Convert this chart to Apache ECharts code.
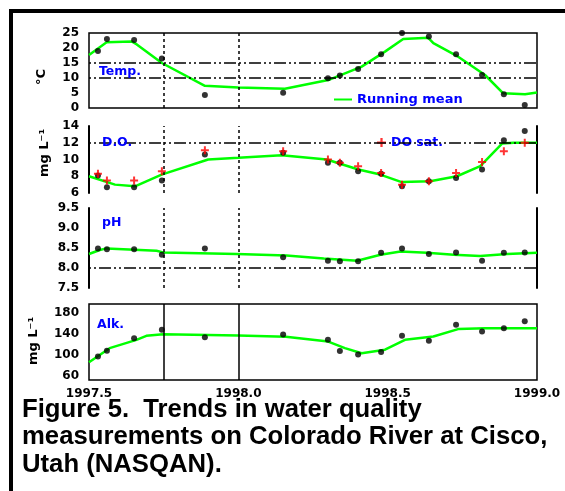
<!DOCTYPE html>
<html><head><meta charset="utf-8">
<script src="https://cdn.jsdelivr.net/npm/echarts@6/dist/echarts.min.js"></script>
<style>html,body{margin:0;padding:0;background:#fff}#c{width:565px;height:491px}</style>
</head><body><div id="c"></div>
<script>
// ---- data ----
const sampleYears = [1997.530, 1997.560, 1997.651, 1997.744, 1997.888, 1998.150, 1998.300, 1998.340,
                     1998.401, 1998.478, 1998.548, 1998.638, 1998.729, 1998.816, 1998.889, 1998.959];
const tempValues  = [19.0, 23.0, 22.7, 16.5, 4.3, 5.1, 9.9, 10.8, 13.0, 17.9, 25.0, 23.8, 17.9, 11.0, 4.6, 1.0];
const doValues    = [8.1, 6.7, 6.7, 7.5, 10.6, 10.8, 9.6, 9.6, 8.6, 8.3, 6.8, 7.4, 7.8, 8.8, 12.3, 13.4];
const doSatValues = [8.3, 7.5, 7.5, 8.6, 11.1, 11.0, 10.0, 9.6, 9.2, 8.4, 7.0, 7.4, 8.4, 9.7, 11.0, 12.0];
const phValues    = [8.49, 8.47, 8.47, 8.33, 8.49, 8.27, 8.18, 8.17, 8.17, 8.38, 8.49, 8.35, 8.39, 8.18, 8.38, 8.39];
const alkValues   = [96.8, 108, 131.8, 147.6, 133.5, 138.5, 128.6, 107.5, 101, 105.5, 136.5, 126.7, 157, 144.4, 150.8, 164];

const tempMeanYears  = [1997.5, 1997.559, 1997.643, 1997.66, 1997.744, 1997.888, 1998.0, 1998.156, 1998.301,
                        1998.413, 1998.491, 1998.552, 1998.636, 1998.653, 1998.736, 1998.826, 1998.887, 1998.960, 1999.0];
const tempMeanValues = [17.7, 21.9, 22.2, 21.2, 15.0, 7.4, 6.8, 6.4, 9.3, 13.8, 18.8, 23.0, 23.4, 21.6, 17.1, 11.0, 4.9, 4.6, 5.2];
const doMeanYears  = [1997.5, 1997.587, 1997.654, 1997.743, 1997.899, 1998.0, 1998.145, 1998.296, 1998.402,
                      1998.475, 1998.547, 1998.642, 1998.732, 1998.81, 1998.883, 1998.922, 1999.0];
const doMeanValues = [8.0, 7.0, 6.8, 8.2, 10.0, 10.2, 10.5, 10.0, 8.8, 8.2, 7.3, 7.4, 8.0, 9.2, 11.9, 12.0, 12.0];
const phMeanYears  = [1997.5, 1997.536, 1997.559, 1997.726, 1997.748, 1997.994, 1998.161, 1998.286, 1998.398,
                      1998.476, 1998.543, 1998.632, 1998.721, 1998.81, 1998.9, 1999.0];
const phMeanValues = [8.35, 8.45, 8.49, 8.43, 8.39, 8.35, 8.31, 8.24, 8.18, 8.33, 8.41, 8.38, 8.33, 8.30, 8.35, 8.38];
const alkMeanYears  = [1997.5, 1997.569, 1997.659, 1997.692, 1997.748, 1998.0, 1998.159, 1998.301, 1998.357,
                       1998.413, 1998.491, 1998.558, 1998.653, 1998.736, 1998.826, 1999.0];
const alkMeanValues = [86, 112.8, 128.6, 136.2, 139.4, 137, 134.5, 125.3, 112.8, 103.2, 110, 128.6, 134.9, 149, 150.8, 150.8];

const xTickValues = [1997.5, 1998.0, 1998.5, 1999.0];
const refYears = [1997.75, 1998.0];
const tempRefLines = [10, 15];
const doRefLines = [12];
const phRefLines = [8.0];
const alkTickValues = [60, 100, 140, 180];
const panelLabels = ['Temp.', 'D.O.', 'pH', 'Alk.'];
const unitLabels = ['\u00B0C', 'mg L\u207B\u00B9', 'mg L\u207B\u00B9'];
const captionLines = ['Figure 5.  Trends in water quality', 'measurements on Colorado River at Cisco,', 'Utah (NASQAN).'];

// ---- helpers ----
const zip = (xs, ys) => xs.map((x, i) => [x, ys[i]]);
const tickFont = { fontFamily: 'DejaVu Sans', fontWeight: 'bold', fontSize: 12, color: '#000' };
const blueFont = 'bold 12.5px "DejaVu Sans"';
const dashDot = [2, 3, 2, 3, 12, 3];
const plusPath = 'path://M3,0H5V3H8V5H5V8H3V5H0V3H3Z';

const gridDefs = [
  { left: 89, width: 448, top: 33, height: 75, show: true },
  { left: 89, width: 448, top: 126, height: 67, show: false },
  { left: 89, width: 448, top: 208, height: 80, show: false },
  { left: 89, width: 448, top: 304, height: 76, show: true }
];
const grids = gridDefs.map(g => ({
  left: g.left, width: g.width, top: g.top, height: g.height,
  show: g.show, borderColor: '#000', borderWidth: 1.5, backgroundColor: 'transparent'
}));

const xAxes = gridDefs.map((g, i) => ({
  type: 'value', gridIndex: i, min: 1997.5, max: 1999.0, interval: 0.5,
  axisLine: { show: false }, axisTick: { show: false }, splitLine: { show: false },
  axisLabel: Object.assign({ show: i === 3, margin: 8, showMinLabel: true, showMaxLabel: true,
    customValues: xTickValues, formatter: v => v.toFixed(1) }, tickFont)
}));

const sideLine = { show: true, lineStyle: { color: '#000', width: 2 } };
const baseY = (gi, extra) => Object.assign({
  type: 'value', gridIndex: gi, axisTick: { show: false }, splitLine: { show: false },
  axisLine: { show: false }
}, extra);
const yAxes = [
  baseY(0, { min: 0, max: 25, interval: 5, axisLabel: Object.assign({ margin: 10 }, tickFont) }),
  baseY(1, { min: 6, max: 14, interval: 2, axisLine: sideLine, axisLabel: Object.assign({ margin: 10 }, tickFont) }),
  baseY(1, { min: 6, max: 14, interval: 2, position: 'right', axisLine: sideLine, axisLabel: { show: false } }),
  baseY(2, { min: 7.5, max: 9.5, interval: 0.5, axisLine: sideLine,
    axisLabel: Object.assign({ margin: 10, formatter: v => v.toFixed(1) }, tickFont) }),
  baseY(2, { min: 7.5, max: 9.5, interval: 0.5, position: 'right', axisLine: sideLine, axisLabel: { show: false } }),
  baseY(3, { min: 52.4, max: 196.6, axisLabel: Object.assign({ margin: 10, customValues: alkTickValues }, tickFont) })
];

const mainY = [0, 1, 3, 5];
const hRefs = [tempRefLines, doRefLines, phRefLines, []];
const meanData = [zip(tempMeanYears, tempMeanValues), zip(doMeanYears, doMeanValues),
                  zip(phMeanYears, phMeanValues), zip(alkMeanYears, alkMeanValues)];
const obsData = [zip(sampleYears, tempValues), zip(sampleYears, doValues),
                 zip(sampleYears, phValues), zip(sampleYears, alkValues)];

const series = [];
for (let p = 0; p < 4; p++) {
  const vType = p === 3 ? 'solid' : [3, 3];
  const mlData = refYears.map(x => ({ xAxis: x, lineStyle: { type: vType, color: '#000', width: 1.5 } }))
    .concat(hRefs[p].map(y => ({ yAxis: y, lineStyle: { type: dashDot, color: '#000', width: 1.5 } })));
  series.push({
    type: 'line', name: 'refs' + p, xAxisIndex: p, yAxisIndex: mainY[p], data: [], z: 1, silent: true,
    markLine: { silent: true, symbol: ['none', 'none'], label: { show: false }, animation: false, data: mlData }
  });
  series.push({
    type: 'line', name: 'Running mean', xAxisIndex: p, yAxisIndex: mainY[p], data: meanData[p],
    showSymbol: false, z: 3, itemStyle: { color: '#00ff00' }, lineStyle: { color: '#00ff00', width: 2.5 }
  });
  series.push({
    type: 'scatter', name: 'obs' + p, xAxisIndex: p, yAxisIndex: mainY[p], data: obsData[p],
    symbol: 'circle', symbolSize: 6, itemStyle: { color: '#000' }, z: 4, clip: false
  });
  if (p === 1) {
    series.push({
      type: 'scatter', name: 'DO sat.', xAxisIndex: 1, yAxisIndex: 1, data: zip(sampleYears, doSatValues),
      symbol: plusPath, symbolSize: 8, itemStyle: { color: '#ff0000' }, z: 5
    });
  }
}

const panelLabelPos = [[99, 72], [102, 143], [102, 223], [97, 325]];
const unitPos = [[42, 77], [45, 153], [34, 341]];
const graphics = [
  { type: 'rect', shape: { x: 9, y: 9, width: 4, height: 482 }, style: { fill: '#000' } },
  { type: 'rect', shape: { x: 9, y: 9, width: 556, height: 4 }, style: { fill: '#000' } }
];
panelLabels.forEach((t, i) => graphics.push({
  type: 'text', x: panelLabelPos[i][0], y: panelLabelPos[i][1], z: 10,
  style: { text: t, font: blueFont, fill: '#0000ff', align: 'left', verticalAlign: 'middle' }
}));
unitLabels.forEach((t, i) => graphics.push({
  type: 'text', x: unitPos[i][0], y: unitPos[i][1], rotation: Math.PI / 2, z: 10,
  style: { text: t, font: 'bold 13px "DejaVu Sans"', fill: '#000', align: 'center', verticalAlign: 'middle' }
}));

const option = {
  animation: false,
  backgroundColor: '#fff',
  title: {
    text: captionLines.join('\n'), left: 22, top: 396, padding: 0,
    textStyle: { fontFamily: 'Liberation Sans', fontWeight: 'bold', fontSize: 25.7, lineHeight: 27.5, color: '#000' }
  },
  legend: [
    { data: ['Running mean'], left: 334, top: 93, selectedMode: false, icon: 'rect', itemWidth: 18, itemHeight: 2,
      padding: 0, textStyle: { color: '#0000ff', fontFamily: 'DejaVu Sans', fontWeight: 'bold', fontSize: 13 } },
    { data: ['DO sat.'], left: 377, top: 136, selectedMode: false, itemWidth: 9, itemHeight: 9,
      padding: 0, textStyle: { color: '#0000ff', fontFamily: 'DejaVu Sans', fontWeight: 'bold', fontSize: 12.5 } }
  ],
  grid: grids, xAxis: xAxes, yAxis: yAxes, series: series, graphic: graphics
};
const chart = echarts.init(document.getElementById('c'), null, { renderer: 'canvas' });
chart.setOption(option);
</script></body></html>
